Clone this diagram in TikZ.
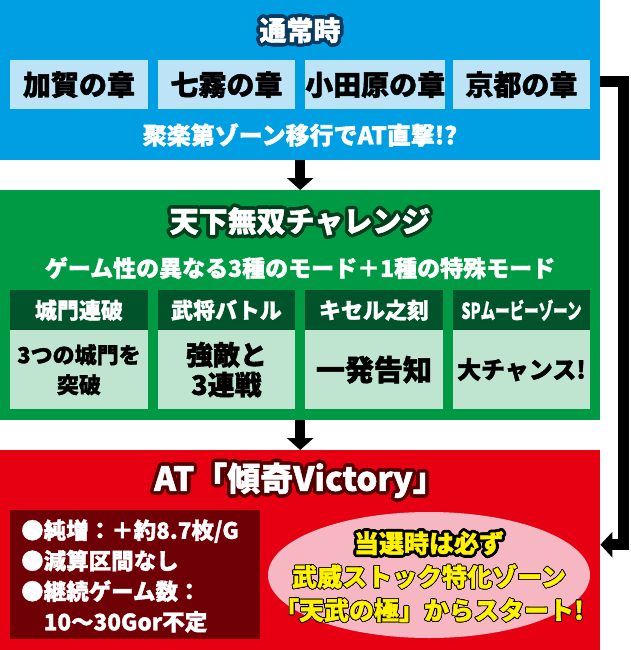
\documentclass[tikz,border=0pt]{standalone}
\usepackage{fontspec}
\setmainfont{Noto Sans CJK JP}[BoldFeatures={FakeBold=1.5}]
\usepackage{graphicx}
\usepackage{contour}
\contournumber{24}
\usetikzlibrary{arrows.meta,shapes.geometric}
\definecolor{blueC}{HTML}{009FE3}
\definecolor{lblue}{HTML}{BDE3F6}
\definecolor{navy}{HTML}{0A3A60}
\definecolor{greenC}{HTML}{009A44}
\definecolor{dgreen}{HTML}{00532A}
\definecolor{lgreen}{HTML}{BFE5D0}
\definecolor{gout}{HTML}{003D1C}
\definecolor{redC}{HTML}{E60012}
\definecolor{dred}{HTML}{6E0006}
\definecolor{rout}{HTML}{550000}
\definecolor{pinkC}{HTML}{F6B7C2}
\definecolor{yel}{HTML}{FFF100}
\tikzset{
  panel/.style={draw=none, inner sep=0pt, anchor=north west},
  chap/.style={panel, fill=lblue, minimum width=137.5pt, minimum height=49pt,
    font=\fontsize{28}{30}\selectfont\bfseries, text=black},
  modehead/.style={panel, fill=dgreen, minimum width=137.5pt, minimum height=40pt,
    font=\fontsize{22}{24}\selectfont\bfseries, text=white},
  modebody/.style={panel, fill=lgreen, minimum width=137.5pt, minimum height=79pt,
    font=\fontsize{26}{30}\selectfont\bfseries, text=black, align=center},
  title/.style={inner sep=0pt, text=white, font=\fontsize{28}{30}\selectfont\bfseries},
  wtext/.style={inner sep=0pt, text=white, font=\fontsize{23}{26}\selectfont\bfseries},
  darr/.style={line width=10pt, -{Triangle[width=26pt,length=12pt]}},
  conn/.style={line width=11pt, line join=miter, -{Triangle[width=25pt,length=12pt]}},
}
\begin{document}
\begin{tikzpicture}[x=1pt,y=-1pt]
\useasboundingbox (0,0) rectangle (630,650);
% panels
\node[panel, fill=blueC, minimum width=600pt, minimum height=160pt] (normal) at (0,0) {};
\node[panel, fill=greenC, minimum width=600pt, minimum height=230pt] (chal) at (0,190) {};
\node[panel, fill=redC, minimum width=600pt, minimum height=200pt] (atbox) at (0,450) {};
% normal
\node[title, font=\fontsize{27}{28}\selectfont\bfseries] (t1) at (300,32) {\contourlength{3.5pt}\contour{navy}{通常時}};
\node[chap] (c1) at (10,60) {加賀の章};
\node[chap] (c2) at (157.5,60) {七霧の章};
\node[chap] (c3) at (305,60) {小田原の章};
\node[chap] (c4) at (452.5,60) {京都の章};
\node[wtext, font=\fontsize{24}{26}\selectfont\bfseries] (s1) at (300,135) {聚楽第ゾーン移行でAT直撃!?};
% challenge
\node[title, font=\fontsize{29}{30}\selectfont\bfseries] (t2) at (300,223) {\contourlength{3.5pt}\contour{gout}{天下無双チャレンジ}};
\node[wtext] (s2) at (300,268) {ゲーム性の異なる3種のモード＋1種の特殊モード};
\node[modehead] (h1) at (10,290) {城門連破};
\node[modehead] (h2) at (157.5,290) {武将バトル};
\node[modehead] (h3) at (305,290) {キセル之刻};
\node[modehead] (h4) at (452.5,290) {\scalebox{0.66}[1]{SPムービーゾーン}};
\node[modebody, font=\fontsize{22}{30}\selectfont\bfseries] (b1) at (10,330) {3つの城門を\\突破};
\node[modebody, font=\fontsize{27}{30}\selectfont\bfseries] (b2) at (157.5,330) {強敵と\\3連戦};
\node[modebody, font=\fontsize{29}{30}\selectfont\bfseries] (b3) at (305,330) {一発告知};
\node[modebody, font=\fontsize{24}{30}\selectfont\bfseries] (b4) at (452.5,330) {大チャンス!};
% AT
\node[title, font=\fontsize{33}{34}\selectfont\bfseries] (t3) at (300,482) {\contourlength{3.5pt}\contour{rout}{AT「傾奇Victory」}};
\node[panel, fill=dred, minimum width=250pt, minimum height=129pt] (spec) at (10,510) {};
\node[wtext, font=\fontsize{22.5}{30.5}\selectfont\bfseries, align=left, anchor=west] (spectxt) at (21,576)
  {●純増：＋約8.7枚/G\\●減算区間なし\\●継続ゲーム数：\\　10～30Gor不定};
\node[ellipse, fill=pinkC, inner sep=0pt, minimum width=322pt, minimum height=126pt] (el) at (429,575) {};
\node[inner sep=0pt, text=yel, align=center, font=\fontsize{25}{33.5}\selectfont\bfseries] (eltxt) at (429,577)
  {\contourlength{2.8pt}\contour{black}{当選時は必ず}\\\contour{black}{武威ストック特化ゾーン}\\\contour{black}{「天武の極」からスタート!}};
% connectors
\draw[darr] (normal.south) -- (chal.north);
\draw[darr] (chal.south) -- (atbox.north);
\draw[conn] ([yshift=-1.5pt]normal.east) -- ++(23.5,0) |- ([yshift=5.5pt]atbox.east);
\end{tikzpicture}
\end{document}
